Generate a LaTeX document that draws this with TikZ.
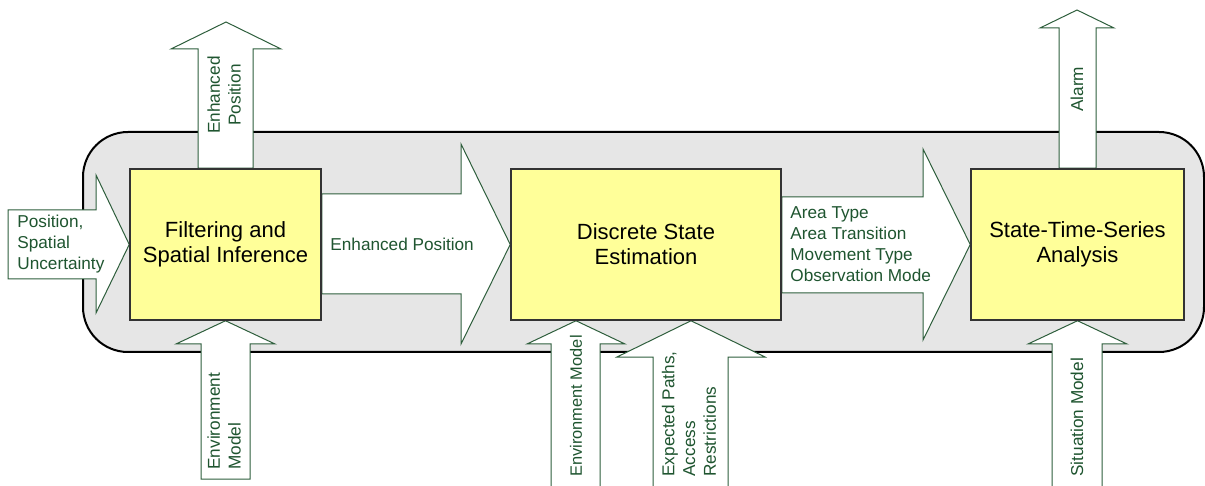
\documentclass[tikz,border=0pt]{standalone}
\usepackage{fontspec}
\setmainfont{Liberation Sans}
\usetikzlibrary{calc}
\definecolor{flowgreen}{HTML}{2E5E3C}
\definecolor{labelgreen}{HTML}{1F5530}
\definecolor{boxyellow}{HTML}{FFFF99}
\definecolor{panelgray}{HTML}{E6E6E6}
\pgfdeclarelayer{back}
\pgfdeclarelayer{mid}
\pgfsetlayers{back,mid,main}
\tikzset{stage/.style={draw=black!80, line width=0.75pt, fill=boxyellow,
   minimum width=#1, minimum height=75.5pt, align=center, inner sep=0pt,
   font=\fontsize{11}{12.5}\selectfont},
 flow/.style={draw=flowgreen, line width=0.5pt, fill=white, line join=miter},
 flowtext/.style={text=labelgreen, font=\fontsize{8.6}{10.4}\selectfont,
   inner sep=0pt, align=left},
 panel/.style={draw=black, line width=1pt, fill=panelgray, rounded corners=22.5pt},
 }

\begin{document}
\begin{tikzpicture}[x=0.5pt,y=-0.5pt]
    \useasboundingbox (0,0) rectangle (1205,486);
    % processing stages
    \node[stage=95.5pt] (filt) at (225.5,244.5) {Filtering and\\Spatial Inference};
    \node[stage=135pt] (dse) at (646,244.5) {Discrete State\\Estimation};
    \node[stage=106.5pt] (stsa) at (1077.5,244.5) {State-Time-Series\\Analysis};

    \begin{pgfonlayer}{back}
        \draw[panel] (83,132) rectangle (1204,352);
    \end{pgfonlayer}

    \begin{pgfonlayer}{mid}
        % into the filter
        \draw[flow] (8,210) -- (96,210) -- (96,175) -- (filt.west) -- (96,313) -- (96,279) -- (8,279) -- cycle;
        \draw[flow] (198,0 |- filt.north) -- (198,49) -- (171,49) -- (226,22) -- (281,49) -- (253,49) -- (253,0 |- filt.north) -- cycle;
        \draw[flow] (filt.south) -- (275,344) -- (250,344) -- (250,479) -- (201,479) -- (201,344) -- (176,344) -- cycle;
        % filter to discrete states
        \draw[flow] (filt.east |- 0,194) -- (461,194) -- (461,144) -- (dse.west) -- (461,344) -- (461,294) -- (filt.east |- 0,294) -- cycle;
        \draw[flow] (576,0 |- dse.south) -- (625,344) -- (600,344) -- (600,495) -- (551,495) -- (551,344) -- (527,344) -- cycle;
        \draw[flow] (691,0 |- dse.south) -- (765,357) -- (728,357) -- (728,495) -- (653,495) -- (653,357) -- (617,357) -- cycle;
        % discrete states to analysis
        \draw[flow] (dse.east |- 0,197) -- (923,197) -- (923,149) -- (stsa.west) -- (923,340) -- (923,293) -- (dse.east |- 0,293) -- cycle;
        \draw[flow] (1059,0 |- stsa.north) -- (1059,28) -- (1040,28) -- (1077,10) -- (1114,28) -- (1096,28) -- (1096,0 |- stsa.north) -- cycle;
        \draw[flow] (stsa.south) -- (1127,344) -- (1102,344) -- (1102,495) -- (1052,495) -- (1052,344) -- (1028,344) -- cycle;
    \end{pgfonlayer}

    % labels
    \node[flowtext, anchor=west] (posin) at (17,244) {Position,\\Spatial\\Uncertainty};
    \node[flowtext, rotate=90, align=center] (enhup) at (224,95) {Enhanced\\Position};
    \node[flowtext, rotate=90, anchor=west] (envone) at (224,470) {Environment\\Model};
    \node[flowtext, anchor=west] (enhpos) at (330,244) {Enhanced Position};
    \node[flowtext, rotate=90, anchor=west, font=\fontsize{8.2}{10.4}\selectfont] (envtwo) at (576,477) {Environment Model};
    \node[flowtext, rotate=90, anchor=west] (paths) at (689,477) {Expected Paths,\\Access\\Restrictions};
    \node[flowtext, anchor=west] (states) at (790,244) {Area Type\\Area Transition\\Movement Type\\Observation Mode};
    \node[flowtext, rotate=90, anchor=west] (alarm) at (1077,112) {Alarm};
    \node[flowtext, rotate=90, anchor=west] (sitmod) at (1077,477) {Situation Model};
\end{tikzpicture}
\end{document}
